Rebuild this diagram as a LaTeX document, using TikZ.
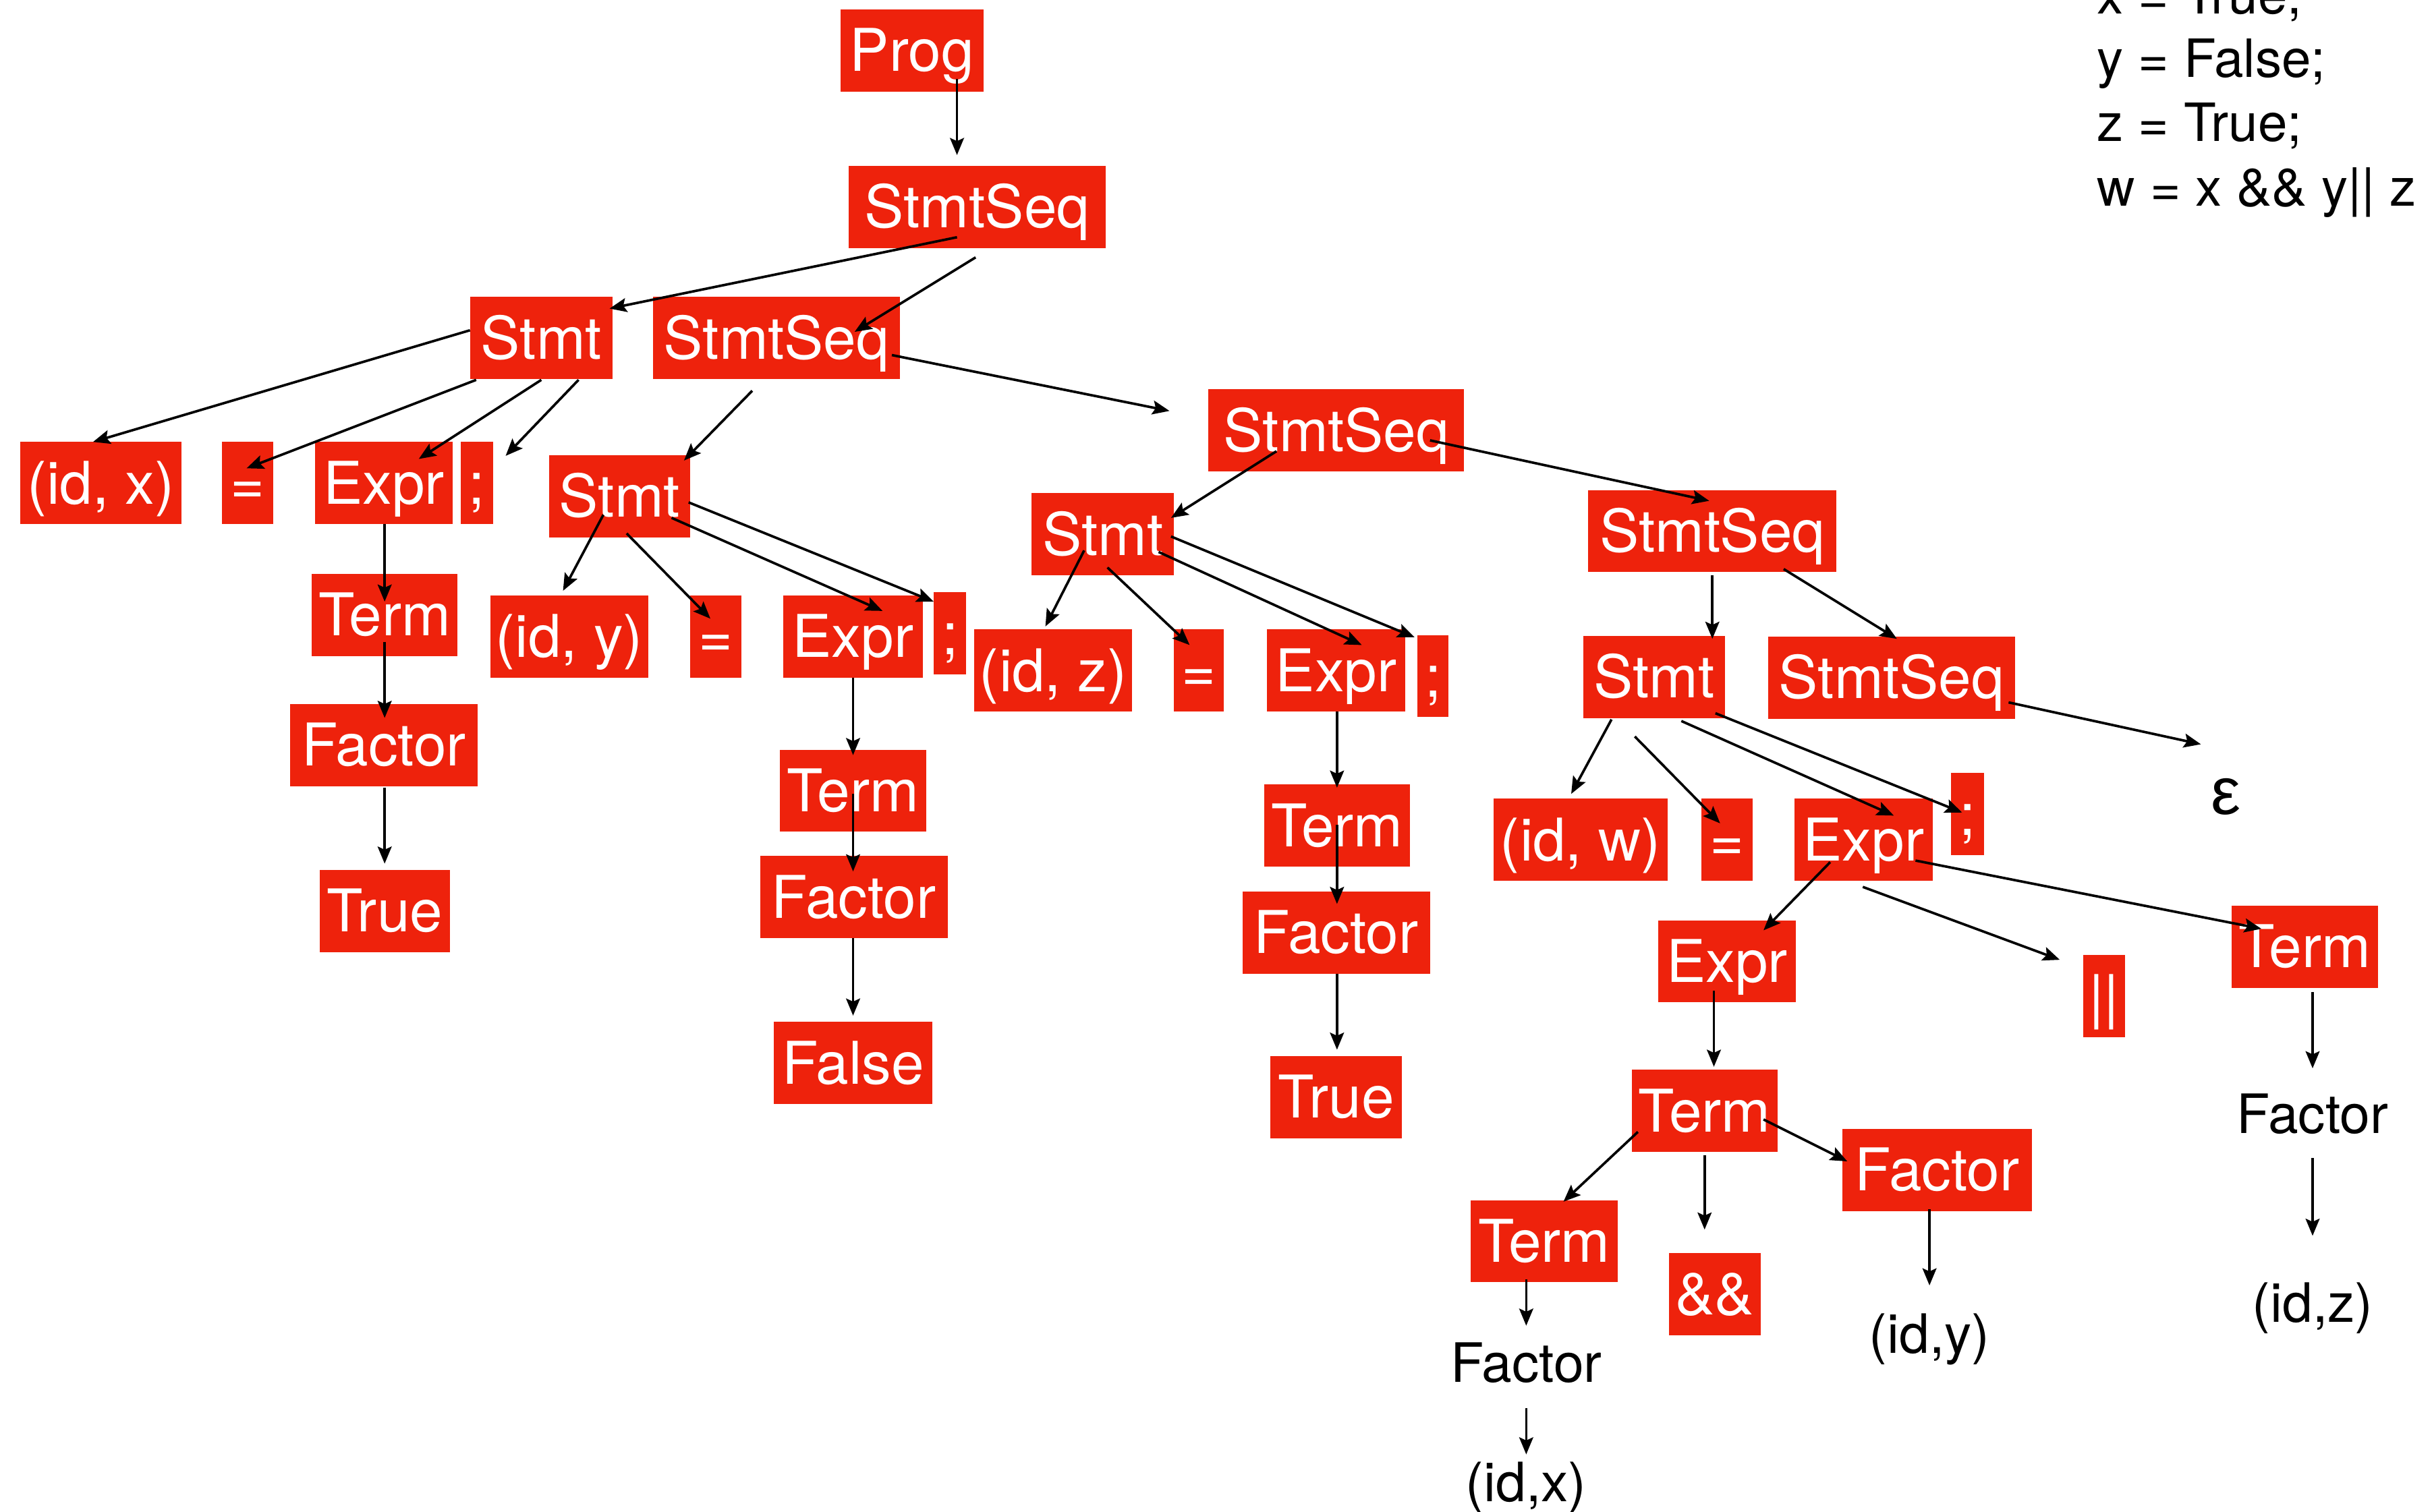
\documentclass[tikz,border=0pt]{standalone}
\usepackage{fontspec}
\setmainfont{TeX Gyre Heros}
\newfontfamily\epsfont{Liberation Sans}
\usetikzlibrary{arrows.meta}
\definecolor{boxred}{HTML}{EE220C}
\tikzset{
  box/.style={fill=boxred, text=white, inner sep=0pt, minimum height=53pt,
    text height=27pt, text depth=0pt, font=\fontsize{38}{40}\selectfont},
  plain/.style={inner sep=0pt, text height=25pt, text depth=0pt, font=\fontsize{35}{40}\selectfont},
  code/.style={inner sep=0pt, anchor=base west, font=\fontsize{34}{40}\selectfont},
  arr/.style={line width=1.6pt, -{Stealth[length=11pt,width=9pt,inset=2pt]}}
}
\begin{document}
\begin{tikzpicture}[x=1pt,y=-1pt]
\useasboundingbox (0,0) rectangle (1568,975);
% boxes
\node[box, minimum width=92pt] (prog) at (588,32.5) {Prog};
\node[box, minimum width=166pt] (ss1) at (630,133.5) {StmtSeq};
\node[box, minimum width=92pt] (st1) at (349,218) {Stmt};
\node[box, minimum width=159pt] (ss2) at (500.5,218) {StmtSeq};
\node[box, minimum width=104pt] (idx) at (65,311.5) {(id, x)};
\node[box, minimum width=33pt] (eq1) at (159.5,311.5) {=};
\node[box, minimum width=89pt] (ex1) at (247.5,311.5) {Expr};
\node[box, minimum width=21pt] (sc1) at (307.5,311.5) {;};
\node[box, minimum width=91pt] (st2) at (399.5,320) {Stmt};
\node[box, minimum width=94pt] (tm1) at (248,396.5) {Term};
\node[box, minimum width=121pt] (fa1) at (247.5,480.5) {Factor};
\node[box, minimum width=84pt] (tr1) at (248,587.5) {True};
\node[box, minimum width=102pt] (idy) at (367,410.5) {(id, y)};
\node[box, minimum width=33pt] (eq2) at (461.5,410.5) {=};
\node[box, minimum width=90pt] (ex2) at (550,410.5) {Expr};
\node[box, minimum width=21pt] (sc2) at (612.5,408.5) {;};
\node[box, minimum width=94pt] (tm2) at (550,510) {Term};
\node[box, minimum width=121pt] (fa2) at (550.5,578.5) {Factor};
\node[box, minimum width=102pt] (fl) at (550,685.5) {False};
\node[box, minimum width=165pt] (ss3) at (861.5,277.5) {StmtSeq};
\node[box, minimum width=92pt] (st3) at (711,344.5) {Stmt};
\node[box, minimum width=102pt] (idz) at (679,432.5) {(id, z)};
\node[box, minimum width=32pt] (eq3) at (773,432.5) {=};
\node[box, minimum width=89pt] (ex3) at (861.5,432.5) {Expr};
\node[box, minimum width=20pt] (sc3) at (924,436) {;};
\node[box, minimum width=94pt] (tm3) at (862,532.5) {Term};
\node[box, minimum width=121pt] (fa3) at (861.5,601.5) {Factor};
\node[box, minimum width=85pt] (tr3) at (861.5,707.5) {True};
\node[box, minimum width=160pt] (ss4) at (1104,342.5) {StmtSeq};
\node[box, minimum width=91pt] (st4) at (1066.5,436.5) {Stmt};
\node[box, minimum width=159pt] (ss5) at (1219.5,437) {StmtSeq};
\node[box, minimum width=112pt] (idw) at (1019,541.5) {(id, w)};
\node[box, minimum width=33pt] (eq4) at (1113.5,541.5) {=};
\node[box, minimum width=89pt] (ex4) at (1201.5,541.5) {Expr};
\node[box, minimum width=21pt] (sc4) at (1268.5,525) {;};
\node[box, minimum width=89pt] (ex5) at (1113.5,620) {Expr};
\node[box, minimum width=27pt] (bar) at (1356.5,642.5) {||};
\node[box, minimum width=94pt] (tm4) at (1486,610.5) {Term};
\node[box, minimum width=94pt] (tm5) at (1099,716.5) {Term};
\node[box, minimum width=122pt] (fa5) at (1249,754.5) {Factor};
\node[box, minimum width=95pt] (tm6) at (995.5,800.5) {Term};
\node[box, minimum width=59pt] (amp) at (1105.5,834.5) {\&\&};
% plain texts
\node[plain] (facR) at (1491,718.6) {Factor};
\node[plain] (idzR) at (1491,840) {(id,z)};
\node[plain] (idyR) at (1244,860) {(id,y)};
\node[plain] (facL) at (984,879) {Factor};
\node[plain] (idxL) at (984,956) {(id,x)};
\node[inner sep=0pt, text height=22pt, text depth=0pt, font=\epsfont\fontsize{43}{45}\selectfont] (eps) at (1435,514) {ε};
% code
\node[code] (c1) at (1352,9) {x = True;};
\node[code] (c2) at (1352,50) {y = False;};
\node[code] (c3) at (1352,91) {z = True;};
\node[code] (c4) at (1352,133) {w = x \&\& y|| z};
% arrows
\draw[arr] ([shift={(29,18.5)}]prog.center) -- ([shift={(-13,-33.5)}]ss1.center);
\draw[arr] ([shift={(-13,19.5)}]ss1.center) -- ([shift={(44,-19)}]st1.center);
\draw[arr] ([shift={(-1,32.5)}]ss1.center) -- ([shift={(50.5,-4)}]ss2.center);
\draw[arr] ([shift={(-46,-5)}]st1.center) -- ([shift={(-5,-26.5)}]idx.center);
\draw[arr] ([shift={(-42,27)}]st1.center) -- ([shift={(-0.5,-9.5)}]eq1.center);
\draw[arr] ([shift={(0,27)}]st1.center) -- ([shift={(22.5,-15.5)}]ex1.center);
\draw[arr] ([shift={(24,27)}]st1.center) -- ([shift={(18.5,-17.5)}]sc1.center);
\draw[arr] ([shift={(-15.5,34)}]ss2.center) -- ([shift={(41.5,-23)}]st2.center);
\draw[arr] ([shift={(74.5,11)}]ss2.center) -- ([shift={(-107.5,-12.5)}]ss3.center);
\draw[arr] ([shift={(-10.5,12)}]st2.center) -- ([shift={(-4,-29.5)}]idy.center);
\draw[arr] ([shift={(4.5,24)}]st2.center) -- ([shift={(-3.5,-11.5)}]eq2.center);
\draw[arr] ([shift={(33.5,14)}]st2.center) -- ([shift={(19,-16.5)}]ex2.center);
\draw[arr] ([shift={(44.5,4)}]st2.center) -- ([shift={(-10.5,-20.5)}]sc2.center);
\draw[arr] ([shift={(0.5,26.5)}]ex1.center) -- ([shift={(0,-8.5)}]tm1.center);
\draw[arr] ([shift={(0,17.5)}]tm1.center) -- ([shift={(0.5,-17.5)}]fa1.center);
\draw[arr] ([shift={(0.5,27.5)}]fa1.center) -- ([shift={(0,-30.5)}]tr1.center);
\draw[arr] ([shift={(0,26.5)}]ex2.center) -- ([shift={(0,-23)}]tm2.center);
\draw[arr] ([shift={(0,2)}]tm2.center) -- ([shift={(-0.5,-16.5)}]fa2.center);
\draw[arr] ([shift={(-0.5,26.5)}]fa2.center) -- ([shift={(0,-30.5)}]fl.center);
\draw[arr] ([shift={(-38.5,13.5)}]ss3.center) -- ([shift={(44,-10.5)}]st3.center);
\draw[arr] ([shift={(60.5,6.5)}]ss3.center) -- ([shift={(-2,-19.5)}]ss4.center);
\draw[arr] ([shift={(-12,10.5)}]st3.center) -- ([shift={(-5,-28.5)}]idz.center);
\draw[arr] ([shift={(3,21.5)}]st3.center) -- ([shift={(-6,-16.5)}]eq3.center);
\draw[arr] ([shift={(36,11.5)}]st3.center) -- ([shift={(16.5,-16.5)}]ex3.center);
\draw[arr] ([shift={(44,1.5)}]st3.center) -- ([shift={(-12,-25)}]sc3.center);
\draw[arr] ([shift={(0.5,26.5)}]ex3.center) -- ([shift={(0,-24.5)}]tm3.center);
\draw[arr] ([shift={(0,-0.5)}]tm3.center) -- ([shift={(0.5,-18.5)}]fa3.center);
\draw[arr] ([shift={(0.5,26.5)}]fa3.center) -- ([shift={(0.5,-30.5)}]tr3.center);
\draw[arr] ([shift={(0,28.5)}]ss4.center) -- ([shift={(37.5,-24.5)}]st4.center);
\draw[arr] ([shift={(46,24.5)}]ss4.center) -- ([shift={(3.5,-25)}]ss5.center);
\draw[arr] ([shift={(75.5,16)}]ss5.center) -- ([shift={(-16,-34)}]eps.center);
\draw[arr] ([shift={(-27.5,27.5)}]st4.center) -- ([shift={(-6,-29.5)}]idw.center);
\draw[arr] ([shift={(-12.5,38.5)}]st4.center) -- ([shift={(-4.5,-10.5)}]eq4.center);
\draw[arr] ([shift={(17.5,28.5)}]st4.center) -- ([shift={(19.5,-15.5)}]ex4.center);
\draw[arr] ([shift={(39.5,23.5)}]st4.center) -- ([shift={(-3.5,-1)}]sc4.center);
\draw[arr] ([shift={(-21.5,14.5)}]ex4.center) -- ([shift={(23.5,-20)}]ex5.center);
\draw[arr] ([shift={(-0.5,30.5)}]ex4.center) -- ([shift={(-28.5,-23.5)}]bar.center);
\draw[arr] ([shift={(33.5,13.5)}]ex4.center) -- ([shift={(-28,-11.5)}]tm4.center);
\draw[arr] ([shift={(5,29.5)}]tm4.center) -- ([shift={(0,-29.6)}]facR.center);
\draw[arr] ([shift={(0,28.4)}]facR.center) -- ([shift={(0,-43)}]idzR.center);
\draw[arr] ([shift={(-8.5,19)}]ex5.center) -- ([shift={(6,-28.5)}]tm5.center);
\draw[arr] ([shift={(-43,13.5)}]tm5.center) -- ([shift={(12.5,-25.5)}]tm6.center);
\draw[arr] ([shift={(0,28.5)}]tm5.center) -- ([shift={(-6.5,-41.5)}]amp.center);
\draw[arr] ([shift={(38,5.5)}]tm5.center) -- ([shift={(-58,-5.5)}]fa5.center);
\draw[arr] ([shift={(-5,25.5)}]fa5.center) -- ([shift={(0,-31)}]idyR.center);
\draw[arr] ([shift={(-11.5,24.5)}]tm6.center) -- ([shift={(0,-24)}]facL.center);
\draw[arr] ([shift={(0,29)}]facL.center) -- ([shift={(0,-18)}]idxL.center);
\end{tikzpicture}
\end{document}
